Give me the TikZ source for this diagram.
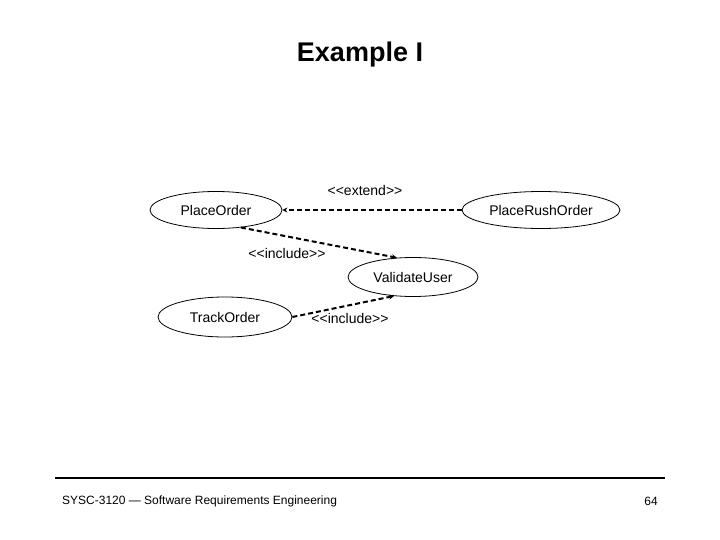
\documentclass[tikz,border=0pt]{standalone}
\usepackage{fontspec}
\setmainfont{Liberation Sans}
\usetikzlibrary{shapes.geometric,arrows.meta}
\begin{document}
\begin{tikzpicture}[x=1pt,y=-1pt,
  usecase/.style={draw,ellipse,line width=0.8pt,inner sep=0pt,font=\fontsize{14}{16}\selectfont},
  dep/.style={line width=2pt,dash pattern=on 5pt off 3pt,-{Stealth[length=5pt,width=5pt]}},
  lbl/.style={font=\fontsize{14}{16}\selectfont,inner sep=0pt}]
\useasboundingbox (0,0) rectangle (720,540);
\node (title) at (360,55) {\fontsize{27}{30}\selectfont\bfseries Example I};
\node[usecase,minimum width=132pt,minimum height=37pt] (po) at (216,210) {PlaceOrder};
\node[usecase,minimum width=158pt,minimum height=37pt] (pro) at (541,210) {PlaceRushOrder};
\node[usecase,minimum width=130pt,minimum height=39pt] (vu) at (413,277) {ValidateUser};
\node[usecase,minimum width=134pt,minimum height=40pt] (to) at (225,317) {TrackOrder};
\draw[dep] (pro.west) -- (po.east);
\draw[dep] (po.-35) -- (vu.130);
\draw[dep] (to.east) -- (vu.-135);
\node[lbl] (l1) at (365,190) {<\kern0pt<extend>\kern0pt>};
\node[lbl] (l2) at (287,253) {<\kern0pt<include>\kern0pt>};
\node[lbl] (l3) at (350,318) {<\kern0pt<include>\kern0pt>};
\coordinate (fl) at (55,478);
\coordinate (fr) at (665,478);
\draw[line width=2pt] (fl) -- (fr);
\node[anchor=west,inner sep=0pt,font=\fontsize{12}{14}\selectfont] (foot) at (62,501) {SYSC-3120 — Software Requirements Engineering};
\node[anchor=east,inner sep=0pt,font=\fontsize{12}{14}\selectfont] (page) at (658,501) {64};
\end{tikzpicture}
\end{document}
